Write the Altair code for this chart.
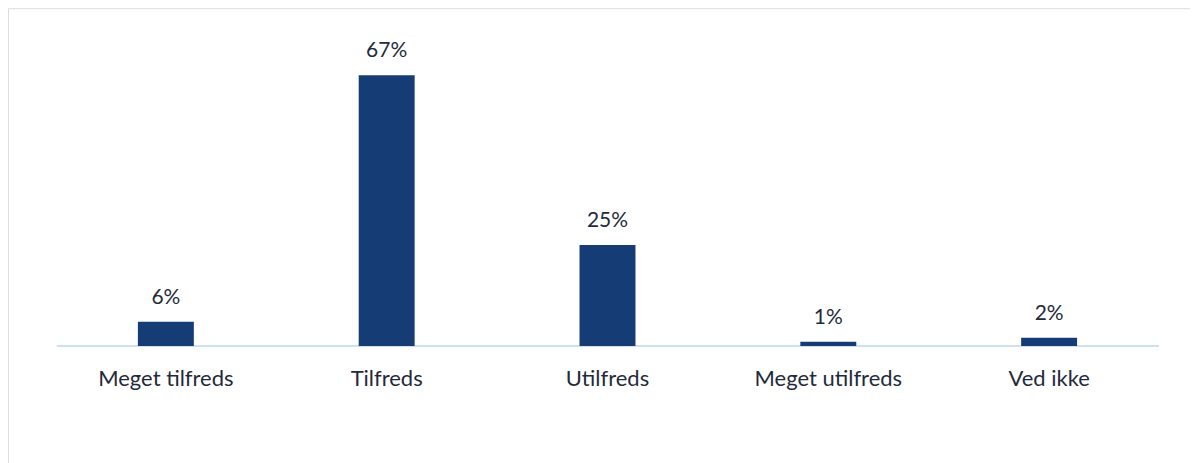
import altair as alt
import pandas as pd

categories = ["Meget tilfreds", "Tilfreds", "Utilfreds", "Meget utilfreds", "Ved ikke"]
values = [6, 67, 25, 1, 2]
labels = ["6%", "67%", "25%", "1%", "2%"]

df = pd.DataFrame({"cat": categories, "val": values, "lab": labels, "zero": [0] * 5})

FONT = "Lato"
TXT = "#1f2b3a"
BAR = "#163c75"

x = alt.X("cat:N", sort=categories, axis=None,
          scale=alt.Scale(range=[47.5, 1152.5], paddingInner=0, paddingOuter=0))
y_scale = alt.Scale(domain=[0, 83.6], range=[338, 0], nice=False, zero=True)

base = alt.Chart(df)

rule = base.mark_rule(color="#cfe0f1", strokeWidth=1.5).encode(
    x=alt.value(49), x2=alt.value(1152), y=alt.Y("zero:Q", scale=y_scale, axis=None)
)

bars = base.mark_bar(size=56, color=BAR).encode(
    x=x, y=alt.Y("val:Q", scale=y_scale, axis=None)
)

vlabels = base.mark_text(font=FONT, fontSize=21, color=TXT, baseline="alphabetic", dy=-18).encode(
    x=x, y=alt.Y("val:Q", scale=y_scale, axis=None), text="lab:N"
)

clabels = base.mark_text(font=FONT, fontSize=22, color=TXT, baseline="alphabetic", dy=40).encode(
    x=x, y=alt.Y("zero:Q", scale=y_scale, axis=None), text="cat:N"
)

chart = alt.layer(rule, bars, vlabels, clabels).properties(
    width=1183, height=460, padding=0
).configure_view(stroke="#d9d9d9", strokeWidth=1).configure(background="white")

chart.save("out.html", embed_options={"renderer": "svg", "actions": False})
